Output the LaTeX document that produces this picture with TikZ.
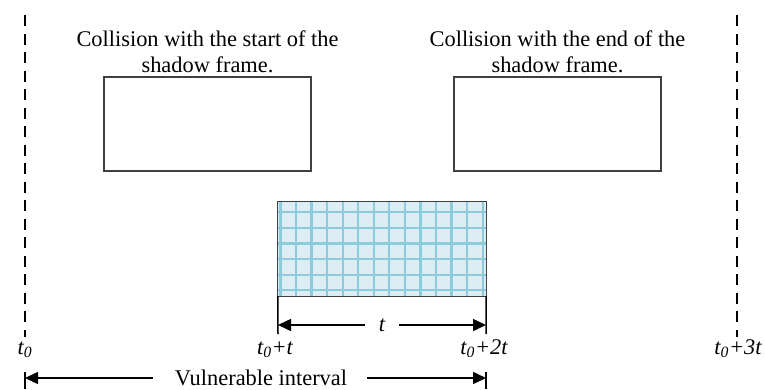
\documentclass[tikz,border=0pt]{standalone}
\usepackage{fontspec}
\setmainfont{Liberation Serif}
\usetikzlibrary{arrows.meta,positioning}
\definecolor{GridFill}{HTML}{DCEEF4}
\definecolor{GridLine}{HTML}{8CCBDB}
\definecolor{FrameGray}{HTML}{404040}

\begin{document}
\begin{tikzpicture}[
  x=1pt, y=-1pt,
  font=\fontsize{22.4}{26}\selectfont,
  frame/.style={draw=FrameGray, line width=1.3pt, minimum width=207pt, minimum height=94pt, inner sep=0pt},
  caption/.style={align=center, inner sep=0pt},
  timeline/.style={line width=1.8pt, dash pattern=on 11pt off 7.5pt},
  tick/.style={line width=1.5pt},
  arrow/.style={-{Triangle[length=13pt,width=12pt]}, line width=1.5pt},
  tlabel/.style={font=\fontsize{22.4}{26}\selectfont\itshape, inner sep=0pt, anchor=base}
]
\useasboundingbox (0,0) rectangle (765,389);

% the two frames with their captions
\node[frame] (startbox) at (207.5,124) {};
\node[frame] (endbox) at (557.5,124) {};
\node[caption, anchor=south] (startcap) at ([yshift=3pt]startbox.north) {Collision with the start of the\\shadow frame.};
\node[caption, anchor=south] (endcap) at ([yshift=3pt]endbox.north) {Collision with the end of the\\shadow frame.};

% shadow frame
\node[minimum width=208pt, minimum height=94pt, inner sep=0pt, fill=GridFill] (shadow) at (382,249) {};
\begin{scope}
  \clip (shadow.south west) rectangle (shadow.north east);
  \foreach \k in {0,...,13}
    \draw[GridLine, line width=2.2pt] (280.4+15.56*\k,150) -- (280.4+15.56*\k,300);
  \foreach \k in {0,...,5}
    \draw[GridLine, line width=2.2pt] (270,212.3+15.6*\k) -- (500,212.3+15.6*\k);
\end{scope}
\draw[FrameGray, line width=1.3pt] (shadow.south west) rectangle (shadow.north east);

% time lines
\coordinate (t0top) at (25,15);
\coordinate (t0bot) at (25,337);
\coordinate (t3top) at (737,15);
\coordinate (t3bot) at (737,337);
\draw[timeline] (t0top) -- (t0bot);
\draw[timeline] (t3top) -- (t3bot);

% length t
\coordinate (tickA) at (278,334);
\coordinate (tickB) at (486,334);
\draw[tick] (shadow.south west) -- (tickA);
\draw[tick] (shadow.south east) -- (tickB);
\node[inner sep=0pt, inner xsep=14pt, font=\fontsize{22.4}{26}\selectfont\itshape] (tlen) at (382,325) {t};
\draw[arrow] (tlen.west) -- (tlen.west -| tickA);
\draw[arrow] (tlen.east) -- (tlen.east -| tickB);

% time labels
\node[tlabel] (t0) at (25,354) {t\textsubscript{0}};
\node[tlabel] (t1) at (275,354) {t\textsubscript{0}+t};
\node[tlabel] (t2) at (484,354) {t\textsubscript{0}+2t};
\node[tlabel] (t3) at (738,354) {t\textsubscript{0}+3t};

% vulnerable interval
\coordinate (vulL) at (25,372);
\coordinate (vulLb) at (25,389);
\coordinate (vulR) at (486,372);
\coordinate (vulRb) at (486,389);
\draw[tick] (vulL) -- (vulLb);
\draw[tick] (vulR) -- (vulRb);
\node[inner sep=0pt] (vul) at (261,378) {Vulnerable interval};
\draw[arrow] ([xshift=-22pt]vul.west) -- (vul.west -| vulL);
\draw[arrow] ([xshift=20pt]vul.east) -- (vul.east -| vulR);
\end{tikzpicture}
\end{document}
